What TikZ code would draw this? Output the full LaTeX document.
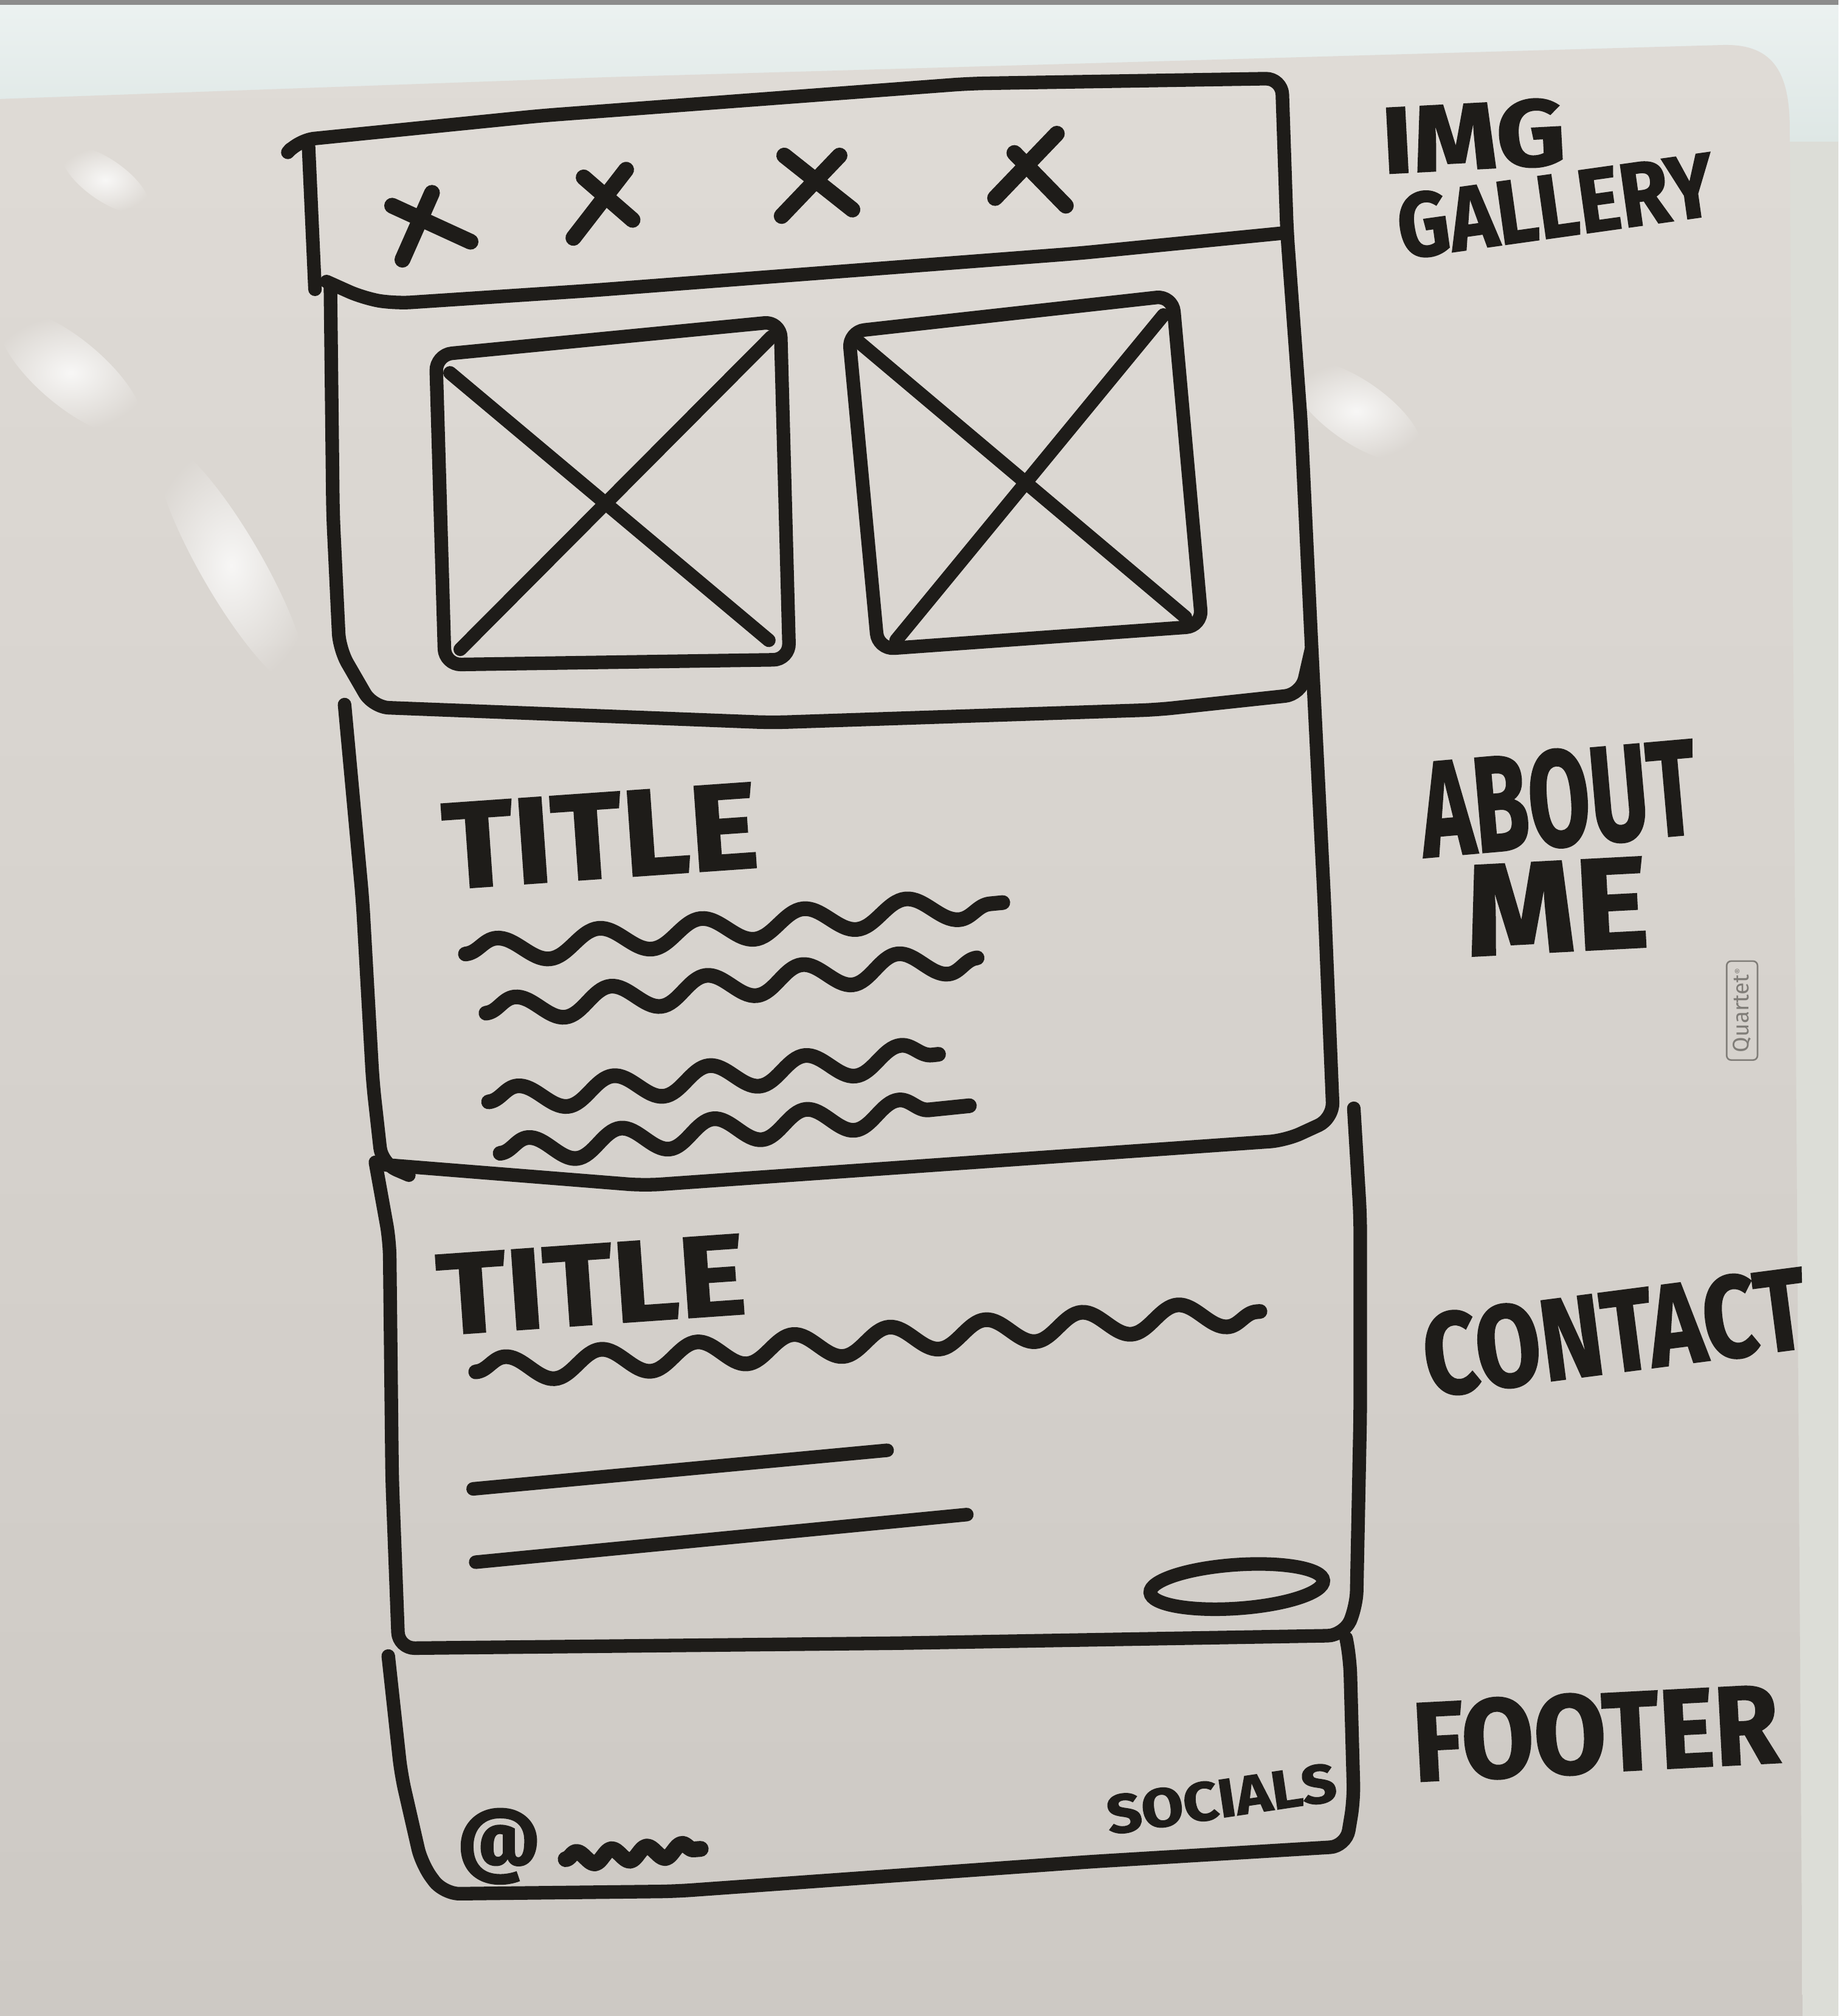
\documentclass[tikz,border=0pt]{standalone}
\usepackage{fontspec}
\setmainfont{Fira Sans}
\newfontfamily\markerfont{Fira Sans}[BoldFeatures={FakeBold=1.5}]
\usetikzlibrary{decorations.pathmorphing,shapes.geometric,fadings}

\definecolor{ink}{RGB}{30,28,25}
\definecolor{boardtop}{RGB}{223,219,214}
\definecolor{boardbot}{RGB}{205,201,196}
\definecolor{frametop}{RGB}{236,242,241}
\definecolor{framebot}{RGB}{222,231,229}
\definecolor{wall}{RGB}{220,221,215}
\definecolor{logo}{RGB}{128,125,120}

% soft round highlight
\tikzfading[name=softspot,inner color=transparent!0,outer color=transparent!100]

% one unit of the drawing grid
\newlength\ux
\setlength\ux{0.02cm}
% marker lettering squeezed into a given width and cap height
\newcommand\hand[3]{\resizebox{#1\ux}{#2\ux}{\markerfont\bfseries #3}}

\begin{document}
\begin{tikzpicture}[x=0.02cm,y=-0.02cm,
  marker/.style={draw=ink,line width=6pt,line cap=round,line join=round,rounded corners=0.25cm},
  cross/.style={draw=ink,line width=7pt,line cap=round},
  wave/.style 2 args={draw=ink,line width=6.5pt,line cap=round,line join=round,
    decorate,decoration={snake,amplitude=#1,segment length=#2}},
  glare/.style={white,path fading=softspot},
  handtext/.style={text=ink,inner sep=0pt}]

\useasboundingbox (0,0) rectangle (1430,1568);

% wall, frame and board surface
\fill[wall] (0,0) rectangle (1430,1568);
\shade[top color=frametop,bottom color=framebot] (0,0) rectangle (1430,110);
\fill[black!45] (0,0) rectangle (1430,4);
\shade[top color=boardtop,bottom color=boardbot]
  (0,77) -- (473,60) -- (1340,35) .. controls (1378,34) and (1391,55) .. (1392,95)
  -- (1402,1568) -- (0,1568) -- cycle;

% glare on the glossy surface
\begin{scope}[opacity=0.8]
  \begin{scope}[shift={(82,140)},rotate=-35] \fill[glare] (0,0) ellipse [x radius=40,y radius=16]; \end{scope}
  \begin{scope}[shift={(55,290)},rotate=-40] \fill[glare] (0,0) ellipse [x radius=70,y radius=26]; \end{scope}
  \begin{scope}[shift={(180,440)},rotate=-60] \fill[glare] (0,0) ellipse [x radius=110,y radius=24]; \end{scope}
  \begin{scope}[shift={(1055,320)},rotate=-35] \fill[glare] (0,0) ellipse [x radius=60,y radius=24]; \end{scope}
\end{scope}

% top navigation bar with its four menu marks
\draw[marker] (226,116) -- (232,109) -- (421,90) -- (754,65) -- (997,61)
  -- (1001,180) -- (1012,330) -- (1020,500) -- (1030,700) -- (1037,870)
  -- (1000,887) -- (501,922) -- (300,906);
\draw[marker] (240,114) -- (245,225);
\draw[marker] (254,219) -- (283,232) -- (307,236) -- (459,226) -- (839,197) -- (1001,181);
\draw[cross] (336,150) -- (313,202);
\draw[cross] (305,160) -- (366,188);
\draw[cross] (487,132) -- (446,185);
\draw[cross] (454,138) -- (492,171);
\draw[cross] (653,121) -- (608,168);
\draw[cross] (610,121) -- (663,163);
\draw[cross] (822,104) -- (774,154);
\draw[cross] (789,119) -- (829,160);

% gallery section
\draw[marker] (257,222) -- (259,400) -- (264,505) -- (290,550) -- (600,562) -- (900,552)
  -- (1012,540) -- (1020,505);
\draw[marker] (339,276) -- (607,250) -- (614,513) -- (346,517) -- cycle;
\draw[marker,rounded corners=0pt] (350,290) -- (598,498);
\draw[marker,rounded corners=0pt] (600,262) -- (358,505);
\draw[marker] (660,258) -- (912,230) -- (935,487) -- (683,505) -- cycle;
\draw[marker,rounded corners=0pt] (668,266) -- (922,480);
\draw[marker,rounded corners=0pt] (905,245) -- (697,498);

% about section
\draw[marker] (268,548) -- (282,700) -- (290,842) -- (297,905) -- (318,914);
\node[handtext,rotate=4] (title1) at (467,650) {\hand{245}{66}{TITLE}};
\draw[wave={0.2cm}{1.6cm}] (362,742) -- (780,702);
\draw[wave={0.2cm}{1.5cm}] (378,788) -- (760,745);
\draw[wave={0.2cm}{1.5cm}] (380,857) -- (730,820);
\draw[wave={0.2cm}{1.45cm}] (389,897) -- (754,860);

% contact section
\draw[marker] (292,904) -- (303,965) -- (305,1150) -- (310,1282) -- (700,1278)
  -- (1045,1272) -- (1055,1250) -- (1058,1100) -- (1058,946) -- (1053,862);
\node[handtext,rotate=4] (title2) at (460,999) {\hand{240}{62}{TITLE}};
\draw[wave={0.2cm}{1.5cm}] (370,1067) -- (980,1020);
\draw[marker] (368,1158) -- (690,1128);
\draw[marker] (370,1215) -- (752,1178);
\node[draw=ink,line width=6pt,ellipse,minimum width=2.7cm,minimum height=0.68cm,
  rotate=4] (button) at (962,1234) {};

% footer
\draw[marker] (302,1288) -- (312,1380) -- (328,1450) -- (345,1473) -- (525,1471)
  -- (848,1448) -- (1047,1436) -- (1053,1400) -- (1050,1290) -- (1047,1274);
\node[handtext,font=\markerfont\fontsize{36}{36}\selectfont\bfseries] (copy) at (388,1436) {@};
\draw[wave={0.1cm}{0.55cm},line width=7pt] (440,1446) -- (545,1438);
\node[handtext,rotate=8.5] (socials) at (950,1399) {\hand{180}{30}{SOCIALS}};

% section names beside the layout
\node[handtext,rotate=3] (lblimg) at (1146,106) {\hand{143}{52}{IMG}};
\node[handtext,rotate=8] (lblgallery) at (1210,160) {\hand{248}{50}{GALLERY}};
\node[handtext,rotate=5] (lblabout) at (1212,621) {\hand{215}{75}{ABOUT}};
\node[handtext,rotate=3] (lblme) at (1211,705) {\hand{142}{70}{ME}};
\node[handtext,rotate=7.4] (lblcontact) at (1256,1036) {\hand{300}{64}{CONTACT}};
\node[handtext,rotate=3] (lblfooter) at (1241,1348) {\hand{285}{62}{FOOTER}};

% maker's badge printed on the board
\node[draw=logo,text=logo,line width=0.7pt,rounded corners=2pt,rotate=90,
  minimum width=1.54cm,minimum height=0.48cm,inner sep=0pt,
  font=\fontsize{10}{10}\selectfont] (badge) at (1355,786) {Quartet\raisebox{0.6ex}{\fontsize{4}{4}\selectfont\textregistered}};

\end{tikzpicture}
\end{document}
